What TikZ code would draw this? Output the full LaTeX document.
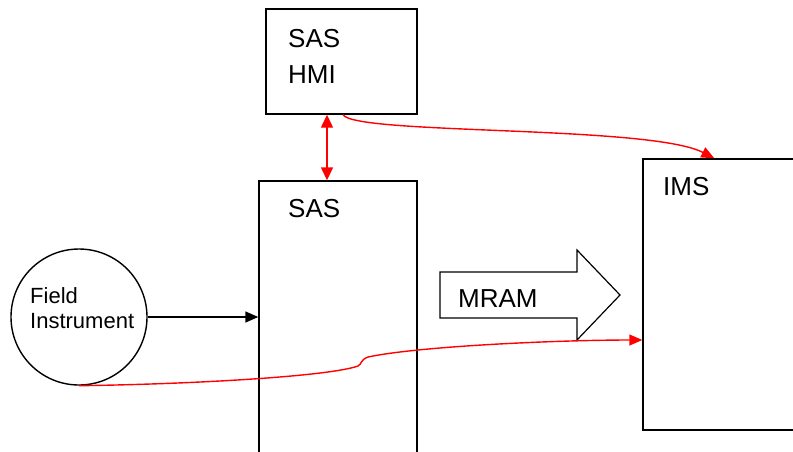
\documentclass[tikz,border=0pt]{standalone}
\usepackage{fontspec}
\setmainfont{Liberation Sans}
\usetikzlibrary{arrows.meta}
\tikzset{
  box/.style={draw, line width=1.4pt, inner sep=0pt},
  lbl/.style={anchor=base west, inner sep=0pt, font=\fontsize{26}{31}\selectfont},
  redline/.style={draw=red, line width=1.4pt},
}
\begin{document}
\begin{tikzpicture}[x=1pt,y=-1pt,>={Triangle[length=13pt,width=11pt]}]
  \useasboundingbox (0,0) rectangle (793,451);
  % boxes
  \node[box, minimum width=151, minimum height=105] (hmi) at (341.5,61.5) {};
  \node[box, minimum width=158, minimum height=289] (sas) at (338,325.5) {};
  \node[box, minimum width=187, minimum height=271] (ims) at (736.5,294.5) {};
  \node[box, circle, minimum size=136] (fi) at (79,317) {};
  % labels
  \node[lbl] (hmitxt) at (288,47) {SAS};
  \node[lbl] (hmitxt2) at (288,83) {HMI};
  \node[lbl] (sastxt) at (288,217) {SAS};
  \node[lbl] (imstxt) at (663,195) {IMS};
  \node[lbl, font=\fontsize{22}{26}\selectfont] (fitxt) at (30,303) {Field};
  \node[lbl, font=\fontsize{22}{26}\selectfont] (fitxt2) at (30,328) {Instrument};
  % MRAM arrow
  \draw[line width=1.2pt, line join=miter] (440,272) -- (577,272) -- (577,250) -- (620,295)
    -- (577,340) -- (577,318) -- (440,318) -- cycle;
  \node[lbl] (mram) at (458,307) {MRAM};
  % connectors
  \draw[line width=1.4pt, ->] (fi.east) -- (sas.west |- fi.east);
  \draw[redline, <->, >={Triangle[length=13pt,width=12pt]}, red]
    ([xshift=-14.5]hmi.south) -- ([xshift=-14.5]hmi.south |- sas.north);
  \draw[redline, ->, red] ([xshift=1.5]hmi.south)
    .. controls (355,135) and (650,125) .. ([xshift=72]ims.north west);
  \draw[redline, ->, red] (fi.south)
    .. controls (200,384) and (330,376) .. (358,366)
    .. controls (362,364) and (360,360) .. (368,357)
    .. controls (420,346) and (560,340) .. ([yshift=-45.5]ims.west);
\end{tikzpicture}
\end{document}
